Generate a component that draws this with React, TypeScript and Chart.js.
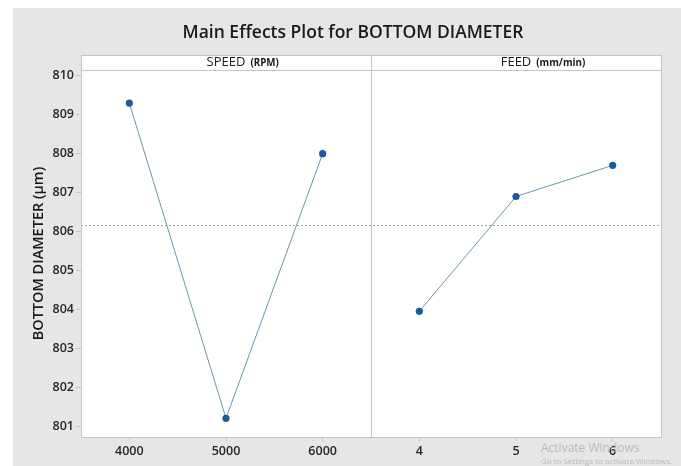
import React, { useEffect, useRef } from "react";
import { Chart, registerables } from "chart.js";

Chart.register(...registerables);

const TITLE = "Main Effects Plot for BOTTOM DIAMETER";
const Y_LABEL = "BOTTOM DIAMETER (μm)";

const panelNames = ["SPEED", "FEED"];
const panelUnits = ["(RPM)", "(mm/min)"];

const speedLevels = ["4000", "5000", "6000"];
const speedMeans = [809.3, 801.2, 808.0];

const feedLevels = ["4", "5", "6"];
const feedMeans = [803.95, 806.9, 807.7];

const yTicks = [801, 802, 803, 804, 805, 806, 807, 808, 809, 810];
const Y_MIN = 800.72;
const Y_MAX = 810.15;

const FONT = "'Open Sans', 'Noto Sans', sans-serif";
const TEXT = "#262626";
const FRAME = "#c4c4c4";

const allMeans = [...speedMeans, ...feedMeans];
const grandMean = allMeans.reduce((a, b) => a + b, 0) / allMeans.length;
const xLabels = [...speedLevels, ...feedLevels];

const panelPlugin = {
  id: "panels",
  beforeDraw(chart: any) {
    const { ctx, chartArea: a } = chart;
    ctx.save();
    ctx.fillStyle = "#ffffff";
    ctx.fillRect(a.left, a.top, a.right - a.left, a.bottom - a.top);
    // header strip
    ctx.fillRect(a.left, a.top - 15, a.right - a.left, 15);
    ctx.restore();
  },
  beforeDatasetsDraw(chart: any) {
    const { ctx, chartArea: a, scales } = chart;
    const y = scales.y.getPixelForValue(grandMean);
    ctx.save();
    ctx.strokeStyle = "#a4a4a4";
    ctx.lineWidth = 1;
    ctx.setLineDash([2, 2]);
    ctx.beginPath();
    ctx.moveTo(a.left, Math.round(y) + 0.5);
    ctx.lineTo(a.right, Math.round(y) + 0.5);
    ctx.stroke();
    ctx.restore();
  },
  afterDraw(chart: any) {
    const { ctx, chartArea: a, scales } = chart;
    const mid = Math.round(scales.x.getPixelForValue(3)) + 0.5;
    const top = a.top - 15;
    ctx.save();
    ctx.strokeStyle = FRAME;
    ctx.lineWidth = 1;
    ctx.strokeRect(Math.round(a.left) + 0.5, top + 0.5, Math.round(a.right - a.left), Math.round(a.bottom - top));
    ctx.beginPath();
    ctx.moveTo(a.left, Math.round(a.top) + 0.5);
    ctx.lineTo(a.right, Math.round(a.top) + 0.5);
    ctx.moveTo(mid, top);
    ctx.lineTo(mid, a.bottom);
    ctx.stroke();

    // panel headers: factor name centred, unit appended in small bold
    ctx.fillStyle = "#1a1a1a";
    ctx.textBaseline = "middle";
    panelNames.forEach((name, i) => {
      const cx = scales.x.getPixelForValue(i * 3 + 1.5);
      ctx.font = `500 13px ${FONT}`;
      ctx.textAlign = "center";
      const w = ctx.measureText(name).width;
      ctx.fillText(name, cx, top + 7.5);
      ctx.font = `bold 9.8px ${FONT}`;
      ctx.textAlign = "left";
      ctx.fillText(panelUnits[i], cx + w / 2 + 5, top + 8.5);
    });

    // title
    ctx.font = `600 17.5px ${FONT}`;
    ctx.textAlign = "center";
    ctx.fillStyle = "#1a1a1a";
    ctx.fillText(TITLE, 353, 33);

    // y-axis title
    ctx.translate(39, (a.top + a.bottom) / 2);
    ctx.rotate(-Math.PI / 2);
    ctx.font = `600 14.5px ${FONT}`;
    ctx.fillText(Y_LABEL, 0, 0);
    ctx.restore();
  },
};

export default function App() {
  const ref = useRef<HTMLCanvasElement | null>(null);

  useEffect(() => {
    if (!ref.current) return;
    const chart = new Chart(ref.current, {
      type: "line",
      data: {
        datasets: [
          {
            label: panelNames[0],
            data: speedMeans.map((v, i) => ({ x: i + 0.5, y: v })),
          },
          {
            label: panelNames[1],
            data: feedMeans.map((v, i) => ({ x: i + 3.5, y: v })),
          },
        ].map((d) => ({
          ...d,
          borderColor: "#6a97ab",
          borderWidth: 1,
          tension: 0,
          pointRadius: 3.6,
          pointBackgroundColor: "#1d5a98",
          pointBorderColor: "#1d5a98",
          pointBorderWidth: 0,
        })),
      },
      options: {
        animation: false,
        responsive: false,
        events: [],
        layout: { padding: { left: 0, top: 70, right: 20, bottom: 0 } },
        plugins: { legend: { display: false }, tooltip: { enabled: false } },
        scales: {
          x: {
            type: "linear",
            min: 0,
            max: 6,
            afterBuildTicks: (s: any) => {
              s.ticks = xLabels.map((_, i) => ({ value: i + 0.5 }));
            },
            afterFit: (s: any) => {
              s.height = 29;
            },
            grid: { drawOnChartArea: false, drawTicks: true, tickLength: 4, color: FRAME },
            border: { display: true, color: FRAME },
            ticks: {
              autoSkip: false,
              maxRotation: 0,
              padding: 3,
              color: TEXT,
              font: { family: FONT, size: 12.5, weight: "600" },
              callback: (_v: any, i: number) => xLabels[i],
            },
          },
          y: {
            type: "linear",
            min: Y_MIN,
            max: Y_MAX,
            afterBuildTicks: (s: any) => {
              s.ticks = yTicks.map((v) => ({ value: v }));
            },
            afterFit: (s: any) => {
              s.width = 81;
            },
            grid: { drawOnChartArea: false, drawTicks: true, tickLength: 5, color: FRAME },
            border: { display: true, color: FRAME },
            ticks: {
              padding: 2,
              color: TEXT,
              font: { family: FONT, size: 12.5, weight: "600" },
              callback: (v: any) => String(v),
            },
          },
        },
      },
      plugins: [panelPlugin],
    } as any);
    return () => chart.destroy();
  }, []);

  return (
    <div
      style={{
        position: "absolute",
        left: 0,
        top: 0,
        width: 681,
        height: 466,
        background: "#ffffff",
        overflow: "hidden",
      }}
    >
      <div
        style={{
          position: "absolute",
          left: 13,
          top: 8,
          right: 0,
          bottom: 0,
          background: "#e6e6e6",
        }}
      />
      <canvas
        ref={ref}
        width={681}
        height={466}
        style={{ position: "absolute", left: 0, top: 0, width: 681, height: 466 }}
      />
      <div
        style={{
          position: "absolute",
          left: 541,
          top: 441,
          fontFamily: FONT,
          fontSize: 12,
          color: "#b9b9b9",
          whiteSpace: "nowrap",
          lineHeight: "14px",
        }}
      >
        Activate Windows
        <div style={{ fontSize: 8, lineHeight: "12px" }}>Go to Settings to activate Windows.</div>
      </div>
    </div>
  );
}
